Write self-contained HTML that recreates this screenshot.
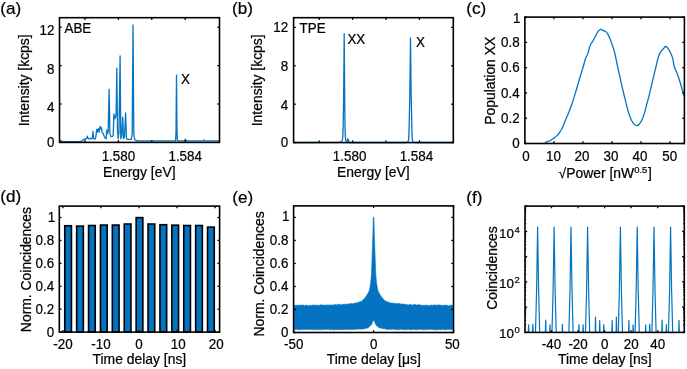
<!DOCTYPE html>
<html><head><meta charset="utf-8"><style>
html,body{margin:0;padding:0;background:#fff;}
svg{display:block;will-change:transform;}
text{font-family:"Liberation Sans",sans-serif;fill:#000;stroke:#000;stroke-width:0.22px;}
</style></head><body>
<svg width="687" height="369" viewBox="0 0 687 369">
<rect width="687" height="369" fill="#fff"/>
<polyline points="59.80,140.30 61.00,140.60 62.50,141.30 64.00,141.60 80.50,141.70 81.20,141.60 82.90,140.20 84.30,139.00 85.40,139.50 86.50,138.40 87.30,136.20 87.90,138.40 88.90,138.80 90.30,138.40 91.70,138.80 92.40,137.70 93.00,131.40 93.60,138.40 94.90,139.10 95.70,137.70 96.70,129.30 97.40,132.10 98.30,128.60 99.10,132.10 100.20,126.30 100.90,128.90 101.60,127.90 102.10,132.50 103.20,133.50 104.20,136.20 105.30,138.30 106.10,138.80 106.90,129.80 107.60,133.50 108.20,131.40 109.10,89.30 109.90,133.50 110.60,136.20 112.10,136.70 113.20,135.60 113.90,114.00 114.80,118.70 115.80,116.60 116.20,112.00 116.80,68.10 117.50,130.00 118.20,138.80 119.00,131.40 120.10,55.80 120.80,138.80 121.70,135.60 122.70,117.10 123.50,138.80 124.50,136.70 125.60,113.00 126.50,138.80 128.00,139.30 129.60,139.40 131.30,139.30 132.20,134.00 133.00,24.90 133.80,134.00 134.60,139.30 135.50,140.20 137.50,140.80 175.60,140.90 176.00,132.00 176.50,75.20 177.00,132.00 177.40,140.90 184.50,140.90 185.50,139.20 186.50,140.90 203.30,140.90 204.30,139.90 205.30,140.90 219.00,140.90" fill="none" stroke="#0474c2" stroke-width="1.3" stroke-linejoin="round" />
<rect x="59.50" y="17.70" width="160.00" height="124.70" fill="none" stroke="#000" stroke-width="1.6"/>
<line x1="85.00" y1="142.40" x2="85.00" y2="140.20" stroke="#000" stroke-width="1.3"/>
<line x1="85.00" y1="17.70" x2="85.00" y2="19.90" stroke="#000" stroke-width="1.3"/>
<line x1="118.40" y1="142.40" x2="118.40" y2="140.20" stroke="#000" stroke-width="1.3"/>
<line x1="118.40" y1="17.70" x2="118.40" y2="19.90" stroke="#000" stroke-width="1.3"/>
<line x1="151.80" y1="142.40" x2="151.80" y2="140.20" stroke="#000" stroke-width="1.3"/>
<line x1="151.80" y1="17.70" x2="151.80" y2="19.90" stroke="#000" stroke-width="1.3"/>
<line x1="185.20" y1="142.40" x2="185.20" y2="140.20" stroke="#000" stroke-width="1.3"/>
<line x1="185.20" y1="17.70" x2="185.20" y2="19.90" stroke="#000" stroke-width="1.3"/>
<line x1="59.50" y1="142.40" x2="61.70" y2="142.40" stroke="#000" stroke-width="1.3"/>
<line x1="219.50" y1="142.40" x2="217.30" y2="142.40" stroke="#000" stroke-width="1.3"/>
<line x1="59.50" y1="104.00" x2="61.70" y2="104.00" stroke="#000" stroke-width="1.3"/>
<line x1="219.50" y1="104.00" x2="217.30" y2="104.00" stroke="#000" stroke-width="1.3"/>
<line x1="59.50" y1="65.60" x2="61.70" y2="65.60" stroke="#000" stroke-width="1.3"/>
<line x1="219.50" y1="65.60" x2="217.30" y2="65.60" stroke="#000" stroke-width="1.3"/>
<line x1="59.50" y1="27.20" x2="61.70" y2="27.20" stroke="#000" stroke-width="1.3"/>
<line x1="219.50" y1="27.20" x2="217.30" y2="27.20" stroke="#000" stroke-width="1.3"/>
<text transform="translate(54.40,35.13) scale(1,1.035)" text-anchor="end" font-size="13.4" >12</text>
<text transform="translate(54.40,74.13) scale(1,1.035)" text-anchor="end" font-size="13.4" >8</text>
<text transform="translate(54.40,112.03) scale(1,1.035)" text-anchor="end" font-size="13.4" >4</text>
<text transform="translate(54.40,147.43) scale(1,1.035)" text-anchor="end" font-size="13.4" >0</text>
<text transform="translate(118.40,160.80) scale(1,1.035)" text-anchor="middle" font-size="13.4" >1.580</text>
<text transform="translate(185.20,160.80) scale(1,1.035)" text-anchor="middle" font-size="13.4" >1.584</text>
<text x="139.30" y="176.70" text-anchor="middle" font-size="13.9" >Energy [eV]</text>
<text transform="translate(28.80,80.30) rotate(-90)" text-anchor="middle" font-size="13.9">Intensity [kcps]</text>
<text transform="translate(64.50,33.40) scale(1,1.035)" text-anchor="start" font-size="13.4" >ABE</text>
<text transform="translate(181.00,84.00) scale(1,1.035)" text-anchor="start" font-size="13.4" >X</text>
<text x="0.20" y="14.20" text-anchor="start" font-size="17.1" >(a)</text>
<polyline points="294.00,142.50 338.00,142.40 341.00,141.90 342.20,140.60 342.80,137.00 343.20,125.00 343.60,100.00 344.20,33.70 344.70,100.00 345.00,125.00 345.30,137.00 345.80,140.60 346.80,141.80 347.40,140.20 347.90,138.60 348.40,140.20 349.00,142.30 350.00,142.50 405.00,142.50 407.50,142.10 408.50,140.50 408.90,135.00 409.40,115.00 409.90,90.00 410.50,38.00 411.10,90.00 411.60,115.00 412.00,135.00 412.40,140.50 413.50,142.10 416.00,142.50 453.00,142.50" fill="none" stroke="#0474c2" stroke-width="1.3" stroke-linejoin="round" />
<rect x="293.60" y="17.70" width="159.70" height="124.90" fill="none" stroke="#000" stroke-width="1.6"/>
<line x1="319.20" y1="142.60" x2="319.20" y2="140.40" stroke="#000" stroke-width="1.3"/>
<line x1="319.20" y1="17.70" x2="319.20" y2="19.90" stroke="#000" stroke-width="1.3"/>
<line x1="352.60" y1="142.60" x2="352.60" y2="140.40" stroke="#000" stroke-width="1.3"/>
<line x1="352.60" y1="17.70" x2="352.60" y2="19.90" stroke="#000" stroke-width="1.3"/>
<line x1="386.00" y1="142.60" x2="386.00" y2="140.40" stroke="#000" stroke-width="1.3"/>
<line x1="386.00" y1="17.70" x2="386.00" y2="19.90" stroke="#000" stroke-width="1.3"/>
<line x1="419.40" y1="142.60" x2="419.40" y2="140.40" stroke="#000" stroke-width="1.3"/>
<line x1="419.40" y1="17.70" x2="419.40" y2="19.90" stroke="#000" stroke-width="1.3"/>
<line x1="293.60" y1="142.60" x2="295.80" y2="142.60" stroke="#000" stroke-width="1.3"/>
<line x1="453.30" y1="142.60" x2="451.10" y2="142.60" stroke="#000" stroke-width="1.3"/>
<line x1="293.60" y1="104.20" x2="295.80" y2="104.20" stroke="#000" stroke-width="1.3"/>
<line x1="453.30" y1="104.20" x2="451.10" y2="104.20" stroke="#000" stroke-width="1.3"/>
<line x1="293.60" y1="65.80" x2="295.80" y2="65.80" stroke="#000" stroke-width="1.3"/>
<line x1="453.30" y1="65.80" x2="451.10" y2="65.80" stroke="#000" stroke-width="1.3"/>
<line x1="293.60" y1="27.40" x2="295.80" y2="27.40" stroke="#000" stroke-width="1.3"/>
<line x1="453.30" y1="27.40" x2="451.10" y2="27.40" stroke="#000" stroke-width="1.3"/>
<text transform="translate(288.20,32.23) scale(1,1.035)" text-anchor="end" font-size="13.4" >12</text>
<text transform="translate(288.20,71.33) scale(1,1.035)" text-anchor="end" font-size="13.4" >8</text>
<text transform="translate(288.20,110.03) scale(1,1.035)" text-anchor="end" font-size="13.4" >4</text>
<text transform="translate(288.20,147.33) scale(1,1.035)" text-anchor="end" font-size="13.4" >0</text>
<text transform="translate(349.60,160.80) scale(1,1.035)" text-anchor="middle" font-size="13.4" >1.580</text>
<text transform="translate(416.40,160.80) scale(1,1.035)" text-anchor="middle" font-size="13.4" >1.584</text>
<text x="373.40" y="176.70" text-anchor="middle" font-size="13.9" >Energy [eV]</text>
<text transform="translate(261.80,80.30) rotate(-90)" text-anchor="middle" font-size="13.9">Intensity [kcps]</text>
<text transform="translate(299.60,33.00) scale(1,1.035)" text-anchor="start" font-size="13.4" >TPE</text>
<text transform="translate(347.40,43.80) scale(1,1.035)" text-anchor="start" font-size="13.4" >XX</text>
<text transform="translate(416.00,47.30) scale(1,1.035)" text-anchor="start" font-size="13.4" >X</text>
<text x="232.10" y="14.20" text-anchor="start" font-size="17.1" >(b)</text>
<path d="M544.90,142.40 C545.35,142.27 546.62,141.97 547.60,141.60 C548.58,141.23 549.72,140.80 550.80,140.20 C551.88,139.60 553.10,138.72 554.10,138.00 C555.10,137.28 555.90,136.80 556.80,135.90 C557.70,135.00 558.60,133.87 559.50,132.60 C560.40,131.33 561.30,130.15 562.20,128.30 C563.10,126.45 563.85,124.05 564.90,121.50 C565.95,118.95 567.30,116.00 568.50,113.00 C569.70,110.00 570.87,107.13 572.10,103.50 C573.33,99.87 574.67,95.28 575.90,91.20 C577.13,87.12 578.28,83.07 579.50,79.00 C580.72,74.93 582.18,70.25 583.20,66.80 C584.22,63.35 584.80,60.53 585.60,58.30 C586.40,56.07 587.38,55.12 588.00,53.40 C588.62,51.68 588.85,49.53 589.30,48.00 C589.75,46.47 590.10,45.37 590.70,44.20 C591.30,43.03 592.18,42.17 592.90,41.00 C593.62,39.83 594.28,38.57 595.00,37.20 C595.72,35.83 596.57,33.92 597.20,32.80 C597.83,31.68 598.20,31.07 598.80,30.50 C599.40,29.93 600.25,29.52 600.80,29.40 C601.35,29.28 601.62,29.55 602.10,29.80 C602.58,30.05 603.17,30.67 603.70,30.90 C604.23,31.13 604.75,30.88 605.30,31.20 C605.85,31.52 606.45,32.07 607.00,32.80 C607.55,33.53 608.07,34.52 608.60,35.60 C609.13,36.68 609.67,37.95 610.20,39.30 C610.73,40.65 611.25,42.15 611.80,43.70 C612.35,45.25 612.95,46.80 613.50,48.60 C614.05,50.40 614.50,51.92 615.10,54.50 C615.70,57.08 616.43,60.97 617.10,64.10 C617.77,67.23 618.43,70.25 619.10,73.30 C619.77,76.35 620.42,79.37 621.10,82.40 C621.78,85.43 622.52,88.62 623.20,91.50 C623.88,94.38 624.53,96.98 625.20,99.70 C625.87,102.42 626.52,105.27 627.20,107.80 C627.88,110.33 628.62,112.87 629.30,114.90 C629.98,116.93 630.47,118.42 631.30,120.00 C632.13,121.58 633.35,123.45 634.30,124.40 C635.25,125.35 636.15,125.77 637.00,125.70 C637.85,125.63 638.55,125.02 639.40,124.00 C640.25,122.98 641.25,121.45 642.10,119.60 C642.95,117.75 643.70,115.55 644.50,112.90 C645.30,110.25 646.05,106.92 646.90,103.70 C647.75,100.48 648.55,97.85 649.60,93.60 C650.65,89.35 652.17,82.53 653.20,78.20 C654.23,73.87 655.02,70.83 655.80,67.60 C656.58,64.37 657.17,61.30 657.90,58.80 C658.63,56.30 659.37,54.17 660.20,52.60 C661.03,51.03 662.02,50.42 662.90,49.40 C663.78,48.38 664.68,46.70 665.50,46.50 C666.32,46.30 667.00,47.23 667.80,48.20 C668.60,49.17 669.50,50.68 670.30,52.30 C671.10,53.92 671.93,55.50 672.60,57.90 C673.27,60.30 673.57,64.20 674.30,66.70 C675.03,69.20 676.12,70.55 677.00,72.90 C677.88,75.25 678.73,78.02 679.60,80.80 C680.47,83.58 681.40,86.95 682.20,89.60 C683.00,92.25 684.03,95.52 684.40,96.70" fill="none" stroke="#0474c2" stroke-width="1.3" stroke-linejoin="round"/>
<rect x="524.90" y="17.10" width="159.50" height="126.40" fill="none" stroke="#000" stroke-width="1.6"/>
<line x1="524.90" y1="143.50" x2="524.90" y2="141.30" stroke="#000" stroke-width="1.3"/>
<line x1="524.90" y1="17.10" x2="524.90" y2="19.30" stroke="#000" stroke-width="1.3"/>
<line x1="553.92" y1="143.50" x2="553.92" y2="141.30" stroke="#000" stroke-width="1.3"/>
<line x1="553.92" y1="17.10" x2="553.92" y2="19.30" stroke="#000" stroke-width="1.3"/>
<line x1="582.94" y1="143.50" x2="582.94" y2="141.30" stroke="#000" stroke-width="1.3"/>
<line x1="582.94" y1="17.10" x2="582.94" y2="19.30" stroke="#000" stroke-width="1.3"/>
<line x1="611.95" y1="143.50" x2="611.95" y2="141.30" stroke="#000" stroke-width="1.3"/>
<line x1="611.95" y1="17.10" x2="611.95" y2="19.30" stroke="#000" stroke-width="1.3"/>
<line x1="640.97" y1="143.50" x2="640.97" y2="141.30" stroke="#000" stroke-width="1.3"/>
<line x1="640.97" y1="17.10" x2="640.97" y2="19.30" stroke="#000" stroke-width="1.3"/>
<line x1="669.99" y1="143.50" x2="669.99" y2="141.30" stroke="#000" stroke-width="1.3"/>
<line x1="669.99" y1="17.10" x2="669.99" y2="19.30" stroke="#000" stroke-width="1.3"/>
<line x1="524.90" y1="143.50" x2="527.10" y2="143.50" stroke="#000" stroke-width="1.3"/>
<line x1="684.40" y1="143.50" x2="682.20" y2="143.50" stroke="#000" stroke-width="1.3"/>
<line x1="524.90" y1="118.22" x2="527.10" y2="118.22" stroke="#000" stroke-width="1.3"/>
<line x1="684.40" y1="118.22" x2="682.20" y2="118.22" stroke="#000" stroke-width="1.3"/>
<line x1="524.90" y1="92.94" x2="527.10" y2="92.94" stroke="#000" stroke-width="1.3"/>
<line x1="684.40" y1="92.94" x2="682.20" y2="92.94" stroke="#000" stroke-width="1.3"/>
<line x1="524.90" y1="67.66" x2="527.10" y2="67.66" stroke="#000" stroke-width="1.3"/>
<line x1="684.40" y1="67.66" x2="682.20" y2="67.66" stroke="#000" stroke-width="1.3"/>
<line x1="524.90" y1="42.38" x2="527.10" y2="42.38" stroke="#000" stroke-width="1.3"/>
<line x1="684.40" y1="42.38" x2="682.20" y2="42.38" stroke="#000" stroke-width="1.3"/>
<line x1="524.90" y1="17.10" x2="527.10" y2="17.10" stroke="#000" stroke-width="1.3"/>
<line x1="684.40" y1="17.10" x2="682.20" y2="17.10" stroke="#000" stroke-width="1.3"/>
<text transform="translate(519.60,148.33) scale(1,1.035)" text-anchor="end" font-size="13.4" >0</text>
<text transform="translate(519.60,123.05) scale(1,1.035)" text-anchor="end" font-size="13.4" >0.2</text>
<text transform="translate(519.60,97.77) scale(1,1.035)" text-anchor="end" font-size="13.4" >0.4</text>
<text transform="translate(519.60,72.49) scale(1,1.035)" text-anchor="end" font-size="13.4" >0.6</text>
<text transform="translate(519.60,47.21) scale(1,1.035)" text-anchor="end" font-size="13.4" >0.8</text>
<text transform="translate(520.40,22.93) scale(1,1.035)" text-anchor="end" font-size="13.4" >1</text>
<text transform="translate(526.00,160.93) scale(1,1.035)" text-anchor="middle" font-size="13.4" >0</text>
<text transform="translate(553.50,160.93) scale(1,1.035)" text-anchor="middle" font-size="13.4" >10</text>
<text transform="translate(582.00,160.93) scale(1,1.035)" text-anchor="middle" font-size="13.4" >20</text>
<text transform="translate(611.00,160.93) scale(1,1.035)" text-anchor="middle" font-size="13.4" >30</text>
<text transform="translate(640.00,160.93) scale(1,1.035)" text-anchor="middle" font-size="13.4" >40</text>
<text transform="translate(669.70,160.93) scale(1,1.035)" text-anchor="middle" font-size="13.4" >50</text>
<text x="605.2" y="178.1" text-anchor="middle" font-size="13.9">&#8730;Power [nW<tspan font-size="9.5" dy="-5.2">0.5</tspan><tspan dy="5.2" dx="0.6">]</tspan></text>
<text transform="translate(494.50,80.80) rotate(-90)" text-anchor="middle" font-size="13.9">Population XX</text>
<text x="466.20" y="14.10" text-anchor="start" font-size="17.1" >(c)</text>
<rect x="64.75" y="225.75" width="6.70" height="106.35" fill="#0474c2" stroke="#000" stroke-width="1.6"/>
<rect x="76.65" y="226.09" width="6.70" height="106.01" fill="#0474c2" stroke="#000" stroke-width="1.6"/>
<rect x="88.55" y="225.52" width="6.70" height="106.58" fill="#0474c2" stroke="#000" stroke-width="1.6"/>
<rect x="100.45" y="225.06" width="6.70" height="107.04" fill="#0474c2" stroke="#000" stroke-width="1.6"/>
<rect x="112.35" y="225.06" width="6.70" height="107.04" fill="#0474c2" stroke="#000" stroke-width="1.6"/>
<rect x="124.25" y="224.03" width="6.70" height="108.07" fill="#0474c2" stroke="#000" stroke-width="1.6"/>
<rect x="136.15" y="217.61" width="6.70" height="114.49" fill="#0474c2" stroke="#000" stroke-width="1.6"/>
<rect x="148.05" y="224.03" width="6.70" height="108.07" fill="#0474c2" stroke="#000" stroke-width="1.6"/>
<rect x="159.95" y="224.72" width="6.70" height="107.38" fill="#0474c2" stroke="#000" stroke-width="1.6"/>
<rect x="171.85" y="225.18" width="6.70" height="106.92" fill="#0474c2" stroke="#000" stroke-width="1.6"/>
<rect x="183.75" y="225.52" width="6.70" height="106.58" fill="#0474c2" stroke="#000" stroke-width="1.6"/>
<rect x="195.65" y="225.52" width="6.70" height="106.58" fill="#0474c2" stroke="#000" stroke-width="1.6"/>
<rect x="207.55" y="227.12" width="6.70" height="104.98" fill="#0474c2" stroke="#000" stroke-width="1.6"/>
<rect x="59.30" y="206.10" width="160.30" height="126.00" fill="none" stroke="#000" stroke-width="1.6"/>
<line x1="62.90" y1="332.10" x2="62.90" y2="329.90" stroke="#000" stroke-width="1.3"/>
<line x1="62.90" y1="206.10" x2="62.90" y2="208.30" stroke="#000" stroke-width="1.3"/>
<line x1="100.95" y1="332.10" x2="100.95" y2="329.90" stroke="#000" stroke-width="1.3"/>
<line x1="100.95" y1="206.10" x2="100.95" y2="208.30" stroke="#000" stroke-width="1.3"/>
<line x1="139.00" y1="332.10" x2="139.00" y2="329.90" stroke="#000" stroke-width="1.3"/>
<line x1="139.00" y1="206.10" x2="139.00" y2="208.30" stroke="#000" stroke-width="1.3"/>
<line x1="177.05" y1="332.10" x2="177.05" y2="329.90" stroke="#000" stroke-width="1.3"/>
<line x1="177.05" y1="206.10" x2="177.05" y2="208.30" stroke="#000" stroke-width="1.3"/>
<line x1="215.10" y1="332.10" x2="215.10" y2="329.90" stroke="#000" stroke-width="1.3"/>
<line x1="215.10" y1="206.10" x2="215.10" y2="208.30" stroke="#000" stroke-width="1.3"/>
<line x1="59.30" y1="332.10" x2="61.50" y2="332.10" stroke="#000" stroke-width="1.3"/>
<line x1="219.60" y1="332.10" x2="217.40" y2="332.10" stroke="#000" stroke-width="1.3"/>
<line x1="59.30" y1="309.18" x2="61.50" y2="309.18" stroke="#000" stroke-width="1.3"/>
<line x1="219.60" y1="309.18" x2="217.40" y2="309.18" stroke="#000" stroke-width="1.3"/>
<line x1="59.30" y1="286.26" x2="61.50" y2="286.26" stroke="#000" stroke-width="1.3"/>
<line x1="219.60" y1="286.26" x2="217.40" y2="286.26" stroke="#000" stroke-width="1.3"/>
<line x1="59.30" y1="263.34" x2="61.50" y2="263.34" stroke="#000" stroke-width="1.3"/>
<line x1="219.60" y1="263.34" x2="217.40" y2="263.34" stroke="#000" stroke-width="1.3"/>
<line x1="59.30" y1="240.42" x2="61.50" y2="240.42" stroke="#000" stroke-width="1.3"/>
<line x1="219.60" y1="240.42" x2="217.40" y2="240.42" stroke="#000" stroke-width="1.3"/>
<line x1="59.30" y1="217.50" x2="61.50" y2="217.50" stroke="#000" stroke-width="1.3"/>
<line x1="219.60" y1="217.50" x2="217.40" y2="217.50" stroke="#000" stroke-width="1.3"/>
<text transform="translate(54.20,336.93) scale(1,1.035)" text-anchor="end" font-size="13.4" >0</text>
<text transform="translate(54.20,314.01) scale(1,1.035)" text-anchor="end" font-size="13.4" >0.2</text>
<text transform="translate(54.20,291.09) scale(1,1.035)" text-anchor="end" font-size="13.4" >0.4</text>
<text transform="translate(54.20,268.17) scale(1,1.035)" text-anchor="end" font-size="13.4" >0.6</text>
<text transform="translate(54.20,245.25) scale(1,1.035)" text-anchor="end" font-size="13.4" >0.8</text>
<text transform="translate(55.20,222.33) scale(1,1.035)" text-anchor="end" font-size="13.4" >1</text>
<text transform="translate(62.90,349.33) scale(1,1.035)" text-anchor="middle" font-size="13.4" >-20</text>
<text transform="translate(100.95,349.33) scale(1,1.035)" text-anchor="middle" font-size="13.4" >-10</text>
<text transform="translate(139.00,349.33) scale(1,1.035)" text-anchor="middle" font-size="13.4" >0</text>
<text transform="translate(178.25,349.33) scale(1,1.035)" text-anchor="middle" font-size="13.4" >10</text>
<text transform="translate(216.30,349.33) scale(1,1.035)" text-anchor="middle" font-size="13.4" >20</text>
<text x="139.40" y="363.60" text-anchor="middle" font-size="13.9" >Time delay [ns]</text>
<text transform="translate(30.50,269.60) rotate(-90)" text-anchor="middle" font-size="13.9">Norm. Coincidences</text>
<text x="0.20" y="202.40" text-anchor="start" font-size="17.1" >(d)</text>
<path d="M294.30,305.33 L295.10,305.17 L295.90,305.61 L296.70,305.08 L297.50,305.49 L298.30,305.33 L299.10,305.05 L299.90,305.44 L300.70,305.01 L301.50,305.36 L302.30,305.03 L303.10,305.04 L303.90,305.33 L304.70,305.68 L305.50,305.04 L306.30,305.12 L307.10,305.48 L307.90,305.76 L308.70,305.42 L309.50,305.25 L310.30,305.76 L311.10,304.92 L311.90,305.64 L312.70,305.12 L313.50,304.98 L314.30,304.95 L315.10,305.11 L315.90,305.56 L316.70,304.98 L317.50,305.33 L318.30,305.38 L319.10,305.13 L319.90,305.28 L320.70,304.84 L321.50,304.82 L322.30,304.95 L323.10,305.37 L323.90,305.12 L324.70,304.99 L325.50,305.20 L326.30,305.05 L327.10,304.87 L327.90,305.29 L328.70,305.17 L329.50,304.72 L330.30,304.99 L331.10,304.91 L331.90,305.19 L332.70,305.03 L333.50,304.60 L334.30,305.19 L335.10,304.38 L335.90,304.61 L336.70,304.89 L337.50,304.31 L338.30,304.57 L339.10,304.11 L339.90,304.63 L340.70,304.66 L341.50,304.43 L342.30,304.65 L343.10,304.10 L343.90,304.39 L344.70,304.24 L345.50,304.18 L346.30,304.01 L347.10,304.31 L347.90,304.35 L348.70,303.86 L349.50,303.94 L350.30,303.30 L351.10,303.78 L351.90,303.63 L352.70,303.85 L353.50,303.60 L354.30,303.21 L355.10,303.12 L355.90,303.02 L356.70,302.92 L357.50,302.67 L358.30,302.36 L359.10,302.05 L359.90,301.75 L360.70,301.44 L361.50,301.13 L362.30,300.68 L363.10,299.81 L363.90,298.93 L364.70,298.06 L365.50,297.11 L366.30,295.93 L367.10,294.73 L367.90,293.47 L368.40,292.54 L369.00,291.15 L369.50,290.00 L370.00,286.96 L370.40,284.52 L370.65,283.00 L371.00,279.27 L371.40,275.00 L371.80,265.00 L372.15,255.00 L372.50,245.00 L372.80,236.00 L373.05,228.00 L373.30,217.30 L373.60,217.10 L373.90,217.30 L374.15,228.00 L374.40,236.00 L374.70,245.00 L375.05,255.00 L375.40,265.00 L375.80,275.00 L376.20,279.27 L376.55,283.00 L376.80,284.52 L377.20,286.96 L377.70,290.00 L378.20,291.15 L378.80,292.54 L379.90,294.41 L380.70,295.64 L381.50,296.81 L382.30,297.84 L383.10,298.71 L383.90,299.59 L384.70,300.46 L385.50,301.05 L386.30,301.36 L387.10,301.67 L387.90,301.98 L388.70,302.28 L389.50,302.59 L390.30,302.90 L391.10,303.00 L391.90,303.09 L392.70,303.19 L393.50,303.29 L394.30,303.19 L395.10,303.38 L395.90,303.73 L396.70,303.24 L397.50,303.73 L398.30,303.57 L399.10,303.59 L399.90,303.59 L400.70,304.28 L401.50,303.76 L402.30,303.92 L403.10,304.10 L403.90,304.58 L404.70,303.93 L405.50,304.31 L406.30,304.45 L407.10,304.81 L407.90,304.80 L408.70,304.89 L409.50,304.41 L410.30,304.57 L411.10,304.55 L411.90,305.06 L412.70,305.16 L413.50,304.46 L414.30,304.52 L415.10,304.60 L415.90,304.64 L416.70,304.90 L417.50,305.03 L418.30,304.77 L419.10,304.57 L419.90,304.97 L420.70,304.96 L421.50,305.17 L422.30,305.55 L423.10,305.35 L423.90,305.22 L424.70,305.32 L425.50,305.38 L426.30,304.83 L427.10,305.59 L427.90,305.49 L428.70,305.59 L429.50,305.53 L430.30,305.17 L431.10,305.18 L431.90,304.93 L432.70,305.41 L433.50,304.91 L434.30,304.92 L435.10,305.05 L435.90,305.02 L436.70,305.19 L437.50,304.94 L438.30,304.90 L439.10,305.04 L439.90,305.00 L440.70,305.25 L441.50,304.95 L442.30,305.72 L443.10,305.50 L443.90,305.09 L444.70,305.19 L445.50,305.28 L446.30,305.30 L447.10,305.10 L447.90,305.76 L448.70,305.89 L449.50,305.43 L450.30,305.45 L451.10,305.10 L451.90,305.12 L452.70,305.35 L452.80,305.28 L452.80,329.80 L452.70,329.40 L451.90,329.31 L451.10,329.87 L450.30,329.61 L449.50,329.38 L448.70,329.62 L447.90,329.31 L447.10,329.61 L446.30,329.87 L445.50,329.80 L444.70,329.70 L443.90,329.44 L443.10,329.50 L442.30,329.38 L441.50,329.74 L440.70,329.60 L439.90,329.74 L439.10,329.47 L438.30,329.41 L437.50,329.76 L436.70,329.86 L435.90,329.78 L435.10,329.75 L434.30,329.76 L433.50,329.71 L432.70,329.40 L431.90,329.57 L431.10,329.47 L430.30,329.28 L429.50,329.27 L428.70,329.42 L427.90,329.41 L427.10,329.67 L426.30,329.82 L425.50,329.52 L424.70,329.81 L423.90,329.84 L423.10,329.82 L422.30,329.46 L421.50,329.37 L420.70,329.38 L419.90,329.36 L419.10,329.36 L418.30,329.61 L417.50,329.77 L416.70,329.74 L415.90,329.52 L415.10,329.62 L414.30,329.71 L413.50,329.28 L412.70,329.62 L411.90,329.77 L411.10,329.69 L410.30,329.67 L409.50,329.51 L408.70,329.33 L407.90,329.69 L407.10,329.41 L406.30,329.69 L405.50,329.80 L404.70,329.45 L403.90,329.45 L403.10,329.78 L402.30,329.64 L401.50,329.31 L400.70,329.28 L399.90,329.29 L399.10,329.74 L398.30,329.68 L397.50,329.26 L396.70,329.65 L395.90,329.72 L395.10,329.50 L394.30,329.30 L393.50,329.39 L392.70,329.12 L391.90,329.03 L391.10,329.59 L390.30,329.37 L389.50,329.28 L388.70,329.50 L387.90,329.18 L387.10,329.41 L386.30,329.28 L385.50,328.81 L384.70,328.74 L383.90,328.66 L383.10,328.53 L382.30,328.64 L381.50,328.32 L380.70,328.13 L379.90,327.67 L378.80,327.39 L378.20,326.96 L377.70,326.61 L377.20,326.19 L376.80,325.77 L376.55,325.50 L376.20,325.13 L375.80,324.71 L375.40,324.00 L375.05,323.12 L374.70,322.25 L374.40,321.58 L374.15,321.06 L373.90,320.53 L373.60,319.90 L373.30,320.53 L373.05,321.06 L372.80,321.58 L372.50,322.25 L372.15,323.12 L371.80,324.00 L371.40,324.71 L371.00,325.13 L370.65,325.50 L370.40,325.77 L370.00,326.19 L369.50,326.61 L369.00,326.96 L368.40,327.39 L367.90,327.67 L367.10,328.21 L366.30,328.16 L365.50,328.49 L364.70,328.66 L363.90,328.96 L363.10,328.76 L362.30,329.16 L361.50,329.01 L360.70,329.13 L359.90,329.22 L359.10,328.93 L358.30,329.21 L357.50,329.08 L356.70,328.99 L355.90,329.49 L355.10,329.13 L354.30,329.33 L353.50,329.51 L352.70,329.43 L351.90,329.31 L351.10,329.45 L350.30,329.49 L349.50,329.65 L348.70,329.26 L347.90,329.54 L347.10,329.35 L346.30,329.37 L345.50,329.67 L344.70,329.51 L343.90,329.55 L343.10,329.67 L342.30,329.76 L341.50,329.48 L340.70,329.58 L339.90,329.52 L339.10,329.52 L338.30,329.63 L337.50,329.49 L336.70,329.54 L335.90,329.51 L335.10,329.79 L334.30,329.65 L333.50,329.75 L332.70,329.79 L331.90,329.39 L331.10,329.57 L330.30,329.80 L329.50,329.74 L328.70,329.32 L327.90,329.31 L327.10,329.50 L326.30,329.28 L325.50,329.39 L324.70,329.29 L323.90,329.65 L323.10,329.72 L322.30,329.79 L321.50,329.34 L320.70,329.68 L319.90,329.65 L319.10,329.34 L318.30,329.78 L317.50,329.84 L316.70,329.39 L315.90,329.83 L315.10,329.50 L314.30,329.55 L313.50,329.86 L312.70,329.76 L311.90,329.36 L311.10,329.53 L310.30,329.58 L309.50,329.47 L308.70,329.39 L307.90,329.47 L307.10,329.71 L306.30,329.29 L305.50,329.61 L304.70,329.54 L303.90,329.29 L303.10,329.48 L302.30,329.66 L301.50,329.59 L300.70,329.33 L299.90,329.88 L299.10,329.76 L298.30,329.87 L297.50,329.36 L296.70,329.45 L295.90,329.32 L295.10,329.76 L294.30,329.46 Z" fill="#0474c2" stroke="#0474c2" stroke-width="0.6"/>
<rect x="293.60" y="205.90" width="159.90" height="126.60" fill="none" stroke="#000" stroke-width="1.6"/>
<line x1="293.65" y1="332.50" x2="293.65" y2="330.30" stroke="#000" stroke-width="1.3"/>
<line x1="293.65" y1="205.90" x2="293.65" y2="208.10" stroke="#000" stroke-width="1.3"/>
<line x1="373.60" y1="332.50" x2="373.60" y2="330.30" stroke="#000" stroke-width="1.3"/>
<line x1="373.60" y1="205.90" x2="373.60" y2="208.10" stroke="#000" stroke-width="1.3"/>
<line x1="453.55" y1="332.50" x2="453.55" y2="330.30" stroke="#000" stroke-width="1.3"/>
<line x1="453.55" y1="205.90" x2="453.55" y2="208.10" stroke="#000" stroke-width="1.3"/>
<line x1="293.60" y1="332.50" x2="295.80" y2="332.50" stroke="#000" stroke-width="1.3"/>
<line x1="453.50" y1="332.50" x2="451.30" y2="332.50" stroke="#000" stroke-width="1.3"/>
<line x1="293.60" y1="309.48" x2="295.80" y2="309.48" stroke="#000" stroke-width="1.3"/>
<line x1="453.50" y1="309.48" x2="451.30" y2="309.48" stroke="#000" stroke-width="1.3"/>
<line x1="293.60" y1="286.46" x2="295.80" y2="286.46" stroke="#000" stroke-width="1.3"/>
<line x1="453.50" y1="286.46" x2="451.30" y2="286.46" stroke="#000" stroke-width="1.3"/>
<line x1="293.60" y1="263.44" x2="295.80" y2="263.44" stroke="#000" stroke-width="1.3"/>
<line x1="453.50" y1="263.44" x2="451.30" y2="263.44" stroke="#000" stroke-width="1.3"/>
<line x1="293.60" y1="240.42" x2="295.80" y2="240.42" stroke="#000" stroke-width="1.3"/>
<line x1="453.50" y1="240.42" x2="451.30" y2="240.42" stroke="#000" stroke-width="1.3"/>
<line x1="293.60" y1="217.40" x2="295.80" y2="217.40" stroke="#000" stroke-width="1.3"/>
<line x1="453.50" y1="217.40" x2="451.30" y2="217.40" stroke="#000" stroke-width="1.3"/>
<text transform="translate(288.40,337.33) scale(1,1.035)" text-anchor="end" font-size="13.4" >0</text>
<text transform="translate(288.40,314.31) scale(1,1.035)" text-anchor="end" font-size="13.4" >0.2</text>
<text transform="translate(288.40,291.29) scale(1,1.035)" text-anchor="end" font-size="13.4" >0.4</text>
<text transform="translate(288.40,268.27) scale(1,1.035)" text-anchor="end" font-size="13.4" >0.6</text>
<text transform="translate(288.40,245.25) scale(1,1.035)" text-anchor="end" font-size="13.4" >0.8</text>
<text transform="translate(289.40,220.83) scale(1,1.035)" text-anchor="end" font-size="13.4" >1</text>
<text transform="translate(293.65,348.93) scale(1,1.035)" text-anchor="middle" font-size="13.4" >-50</text>
<text transform="translate(373.60,348.93) scale(1,1.035)" text-anchor="middle" font-size="13.4" >0</text>
<text transform="translate(452.35,348.93) scale(1,1.035)" text-anchor="middle" font-size="13.4" >50</text>
<text x="373.80" y="363.60" text-anchor="middle" font-size="13.9" >Time delay [&#956;s]</text>
<text transform="translate(264.00,273.90) rotate(-90)" text-anchor="middle" font-size="13.9">Norm. Coincidences</text>
<text x="232.30" y="202.60" text-anchor="start" font-size="17.1" >(e)</text>
<polyline points="535.50,332.40 536.60,290.00 537.60,227.00 538.60,290.00 539.70,332.40" fill="none" stroke="#0474c2" stroke-width="1.2" stroke-linejoin="round" />
<polyline points="552.00,332.40 553.10,290.00 554.10,227.00 555.10,290.00 556.20,332.40" fill="none" stroke="#0474c2" stroke-width="1.2" stroke-linejoin="round" />
<polyline points="568.90,332.40 570.00,290.00 571.00,227.00 572.00,290.00 573.10,332.40" fill="none" stroke="#0474c2" stroke-width="1.2" stroke-linejoin="round" />
<polyline points="585.50,332.40 586.60,290.00 587.60,227.00 588.60,290.00 589.70,332.40" fill="none" stroke="#0474c2" stroke-width="1.2" stroke-linejoin="round" />
<polyline points="618.30,332.40 619.40,290.00 620.40,227.00 621.40,290.00 622.50,332.40" fill="none" stroke="#0474c2" stroke-width="1.2" stroke-linejoin="round" />
<polyline points="635.10,332.40 636.20,290.00 637.20,227.00 638.20,290.00 639.30,332.40" fill="none" stroke="#0474c2" stroke-width="1.2" stroke-linejoin="round" />
<polyline points="651.90,332.40 653.00,290.00 654.00,227.00 655.00,290.00 656.10,332.40" fill="none" stroke="#0474c2" stroke-width="1.2" stroke-linejoin="round" />
<polyline points="668.50,332.40 669.60,290.00 670.60,227.00 671.60,290.00 672.70,332.40" fill="none" stroke="#0474c2" stroke-width="1.2" stroke-linejoin="round" />
<polyline points="528.30,332.40 528.60,324.90 528.90,332.40" fill="none" stroke="#0474c2" stroke-width="1.2" stroke-linejoin="round" />
<polyline points="532.60,332.40 532.90,324.30 533.20,332.40" fill="none" stroke="#0474c2" stroke-width="1.2" stroke-linejoin="round" />
<polyline points="545.40,332.40 545.70,320.00 546.00,332.40" fill="none" stroke="#0474c2" stroke-width="1.2" stroke-linejoin="round" />
<polyline points="549.70,332.40 550.00,324.90 550.30,332.40" fill="none" stroke="#0474c2" stroke-width="1.2" stroke-linejoin="round" />
<polyline points="562.10,332.40 562.40,324.30 562.70,332.40" fill="none" stroke="#0474c2" stroke-width="1.2" stroke-linejoin="round" />
<polyline points="578.60,332.40 578.90,324.50 579.20,332.40" fill="none" stroke="#0474c2" stroke-width="1.2" stroke-linejoin="round" />
<polyline points="582.80,332.40 583.10,324.90 583.40,332.40" fill="none" stroke="#0474c2" stroke-width="1.2" stroke-linejoin="round" />
<polyline points="595.20,332.40 595.50,317.10 595.80,332.40" fill="none" stroke="#0474c2" stroke-width="1.2" stroke-linejoin="round" />
<polyline points="599.40,332.40 599.70,320.50 600.00,332.40" fill="none" stroke="#0474c2" stroke-width="1.2" stroke-linejoin="round" />
<polyline points="603.50,332.40 603.80,324.50 604.10,332.40" fill="none" stroke="#0474c2" stroke-width="1.2" stroke-linejoin="round" />
<polyline points="611.90,332.40 612.20,320.50 612.50,332.40" fill="none" stroke="#0474c2" stroke-width="1.2" stroke-linejoin="round" />
<polyline points="616.10,332.40 616.40,317.10 616.70,332.40" fill="none" stroke="#0474c2" stroke-width="1.2" stroke-linejoin="round" />
<polyline points="628.60,332.40 628.90,320.50 629.20,332.40" fill="none" stroke="#0474c2" stroke-width="1.2" stroke-linejoin="round" />
<polyline points="632.80,332.40 633.10,324.90 633.40,332.40" fill="none" stroke="#0474c2" stroke-width="1.2" stroke-linejoin="round" />
<polyline points="645.40,332.40 645.70,324.90 646.00,332.40" fill="none" stroke="#0474c2" stroke-width="1.2" stroke-linejoin="round" />
<polyline points="649.40,332.40 649.70,324.30 650.00,332.40" fill="none" stroke="#0474c2" stroke-width="1.2" stroke-linejoin="round" />
<polyline points="661.80,332.40 662.10,320.00 662.40,332.40" fill="none" stroke="#0474c2" stroke-width="1.2" stroke-linejoin="round" />
<polyline points="666.10,332.40 666.40,324.50 666.70,332.40" fill="none" stroke="#0474c2" stroke-width="1.2" stroke-linejoin="round" />
<polyline points="678.70,332.40 679.00,320.40 679.30,332.40" fill="none" stroke="#0474c2" stroke-width="1.2" stroke-linejoin="round" />
<rect x="525.00" y="206.10" width="159.30" height="126.30" fill="none" stroke="#000" stroke-width="1.6"/>
<line x1="551.50" y1="332.40" x2="551.50" y2="330.20" stroke="#000" stroke-width="1.3"/>
<line x1="551.50" y1="206.10" x2="551.50" y2="208.30" stroke="#000" stroke-width="1.3"/>
<line x1="578.05" y1="332.40" x2="578.05" y2="330.20" stroke="#000" stroke-width="1.3"/>
<line x1="578.05" y1="206.10" x2="578.05" y2="208.30" stroke="#000" stroke-width="1.3"/>
<line x1="604.60" y1="332.40" x2="604.60" y2="330.20" stroke="#000" stroke-width="1.3"/>
<line x1="604.60" y1="206.10" x2="604.60" y2="208.30" stroke="#000" stroke-width="1.3"/>
<line x1="631.15" y1="332.40" x2="631.15" y2="330.20" stroke="#000" stroke-width="1.3"/>
<line x1="631.15" y1="206.10" x2="631.15" y2="208.30" stroke="#000" stroke-width="1.3"/>
<line x1="657.70" y1="332.40" x2="657.70" y2="330.20" stroke="#000" stroke-width="1.3"/>
<line x1="657.70" y1="206.10" x2="657.70" y2="208.30" stroke="#000" stroke-width="1.3"/>
<line x1="525.00" y1="332.40" x2="527.20" y2="332.40" stroke="#000" stroke-width="1.3"/>
<line x1="684.30" y1="332.40" x2="682.10" y2="332.40" stroke="#000" stroke-width="1.3"/>
<line x1="525.00" y1="307.14" x2="527.20" y2="307.14" stroke="#000" stroke-width="1.3"/>
<line x1="684.30" y1="307.14" x2="682.10" y2="307.14" stroke="#000" stroke-width="1.3"/>
<line x1="525.00" y1="281.88" x2="527.20" y2="281.88" stroke="#000" stroke-width="1.3"/>
<line x1="684.30" y1="281.88" x2="682.10" y2="281.88" stroke="#000" stroke-width="1.3"/>
<line x1="525.00" y1="256.62" x2="527.20" y2="256.62" stroke="#000" stroke-width="1.3"/>
<line x1="684.30" y1="256.62" x2="682.10" y2="256.62" stroke="#000" stroke-width="1.3"/>
<line x1="525.00" y1="231.36" x2="527.20" y2="231.36" stroke="#000" stroke-width="1.3"/>
<line x1="684.30" y1="231.36" x2="682.10" y2="231.36" stroke="#000" stroke-width="1.3"/>
<line x1="525.00" y1="206.10" x2="527.20" y2="206.10" stroke="#000" stroke-width="1.3"/>
<line x1="684.30" y1="206.10" x2="682.10" y2="206.10" stroke="#000" stroke-width="1.3"/>
<line x1="525.00" y1="324.80" x2="526.20" y2="324.80" stroke="#000" stroke-width="1.0"/>
<line x1="684.30" y1="324.80" x2="683.10" y2="324.80" stroke="#000" stroke-width="1.0"/>
<line x1="525.00" y1="320.35" x2="526.20" y2="320.35" stroke="#000" stroke-width="1.0"/>
<line x1="684.30" y1="320.35" x2="683.10" y2="320.35" stroke="#000" stroke-width="1.0"/>
<line x1="525.00" y1="317.19" x2="526.20" y2="317.19" stroke="#000" stroke-width="1.0"/>
<line x1="684.30" y1="317.19" x2="683.10" y2="317.19" stroke="#000" stroke-width="1.0"/>
<line x1="525.00" y1="314.74" x2="526.20" y2="314.74" stroke="#000" stroke-width="1.0"/>
<line x1="684.30" y1="314.74" x2="683.10" y2="314.74" stroke="#000" stroke-width="1.0"/>
<line x1="525.00" y1="312.74" x2="526.20" y2="312.74" stroke="#000" stroke-width="1.0"/>
<line x1="684.30" y1="312.74" x2="683.10" y2="312.74" stroke="#000" stroke-width="1.0"/>
<line x1="525.00" y1="311.05" x2="526.20" y2="311.05" stroke="#000" stroke-width="1.0"/>
<line x1="684.30" y1="311.05" x2="683.10" y2="311.05" stroke="#000" stroke-width="1.0"/>
<line x1="525.00" y1="309.59" x2="526.20" y2="309.59" stroke="#000" stroke-width="1.0"/>
<line x1="684.30" y1="309.59" x2="683.10" y2="309.59" stroke="#000" stroke-width="1.0"/>
<line x1="525.00" y1="308.30" x2="526.20" y2="308.30" stroke="#000" stroke-width="1.0"/>
<line x1="684.30" y1="308.30" x2="683.10" y2="308.30" stroke="#000" stroke-width="1.0"/>
<line x1="525.00" y1="299.54" x2="526.20" y2="299.54" stroke="#000" stroke-width="1.0"/>
<line x1="684.30" y1="299.54" x2="683.10" y2="299.54" stroke="#000" stroke-width="1.0"/>
<line x1="525.00" y1="295.09" x2="526.20" y2="295.09" stroke="#000" stroke-width="1.0"/>
<line x1="684.30" y1="295.09" x2="683.10" y2="295.09" stroke="#000" stroke-width="1.0"/>
<line x1="525.00" y1="291.93" x2="526.20" y2="291.93" stroke="#000" stroke-width="1.0"/>
<line x1="684.30" y1="291.93" x2="683.10" y2="291.93" stroke="#000" stroke-width="1.0"/>
<line x1="525.00" y1="289.48" x2="526.20" y2="289.48" stroke="#000" stroke-width="1.0"/>
<line x1="684.30" y1="289.48" x2="683.10" y2="289.48" stroke="#000" stroke-width="1.0"/>
<line x1="525.00" y1="287.48" x2="526.20" y2="287.48" stroke="#000" stroke-width="1.0"/>
<line x1="684.30" y1="287.48" x2="683.10" y2="287.48" stroke="#000" stroke-width="1.0"/>
<line x1="525.00" y1="285.79" x2="526.20" y2="285.79" stroke="#000" stroke-width="1.0"/>
<line x1="684.30" y1="285.79" x2="683.10" y2="285.79" stroke="#000" stroke-width="1.0"/>
<line x1="525.00" y1="284.33" x2="526.20" y2="284.33" stroke="#000" stroke-width="1.0"/>
<line x1="684.30" y1="284.33" x2="683.10" y2="284.33" stroke="#000" stroke-width="1.0"/>
<line x1="525.00" y1="283.04" x2="526.20" y2="283.04" stroke="#000" stroke-width="1.0"/>
<line x1="684.30" y1="283.04" x2="683.10" y2="283.04" stroke="#000" stroke-width="1.0"/>
<line x1="525.00" y1="274.28" x2="526.20" y2="274.28" stroke="#000" stroke-width="1.0"/>
<line x1="684.30" y1="274.28" x2="683.10" y2="274.28" stroke="#000" stroke-width="1.0"/>
<line x1="525.00" y1="269.83" x2="526.20" y2="269.83" stroke="#000" stroke-width="1.0"/>
<line x1="684.30" y1="269.83" x2="683.10" y2="269.83" stroke="#000" stroke-width="1.0"/>
<line x1="525.00" y1="266.67" x2="526.20" y2="266.67" stroke="#000" stroke-width="1.0"/>
<line x1="684.30" y1="266.67" x2="683.10" y2="266.67" stroke="#000" stroke-width="1.0"/>
<line x1="525.00" y1="264.22" x2="526.20" y2="264.22" stroke="#000" stroke-width="1.0"/>
<line x1="684.30" y1="264.22" x2="683.10" y2="264.22" stroke="#000" stroke-width="1.0"/>
<line x1="525.00" y1="262.22" x2="526.20" y2="262.22" stroke="#000" stroke-width="1.0"/>
<line x1="684.30" y1="262.22" x2="683.10" y2="262.22" stroke="#000" stroke-width="1.0"/>
<line x1="525.00" y1="260.53" x2="526.20" y2="260.53" stroke="#000" stroke-width="1.0"/>
<line x1="684.30" y1="260.53" x2="683.10" y2="260.53" stroke="#000" stroke-width="1.0"/>
<line x1="525.00" y1="259.07" x2="526.20" y2="259.07" stroke="#000" stroke-width="1.0"/>
<line x1="684.30" y1="259.07" x2="683.10" y2="259.07" stroke="#000" stroke-width="1.0"/>
<line x1="525.00" y1="257.78" x2="526.20" y2="257.78" stroke="#000" stroke-width="1.0"/>
<line x1="684.30" y1="257.78" x2="683.10" y2="257.78" stroke="#000" stroke-width="1.0"/>
<line x1="525.00" y1="249.02" x2="526.20" y2="249.02" stroke="#000" stroke-width="1.0"/>
<line x1="684.30" y1="249.02" x2="683.10" y2="249.02" stroke="#000" stroke-width="1.0"/>
<line x1="525.00" y1="244.57" x2="526.20" y2="244.57" stroke="#000" stroke-width="1.0"/>
<line x1="684.30" y1="244.57" x2="683.10" y2="244.57" stroke="#000" stroke-width="1.0"/>
<line x1="525.00" y1="241.41" x2="526.20" y2="241.41" stroke="#000" stroke-width="1.0"/>
<line x1="684.30" y1="241.41" x2="683.10" y2="241.41" stroke="#000" stroke-width="1.0"/>
<line x1="525.00" y1="238.96" x2="526.20" y2="238.96" stroke="#000" stroke-width="1.0"/>
<line x1="684.30" y1="238.96" x2="683.10" y2="238.96" stroke="#000" stroke-width="1.0"/>
<line x1="525.00" y1="236.96" x2="526.20" y2="236.96" stroke="#000" stroke-width="1.0"/>
<line x1="684.30" y1="236.96" x2="683.10" y2="236.96" stroke="#000" stroke-width="1.0"/>
<line x1="525.00" y1="235.27" x2="526.20" y2="235.27" stroke="#000" stroke-width="1.0"/>
<line x1="684.30" y1="235.27" x2="683.10" y2="235.27" stroke="#000" stroke-width="1.0"/>
<line x1="525.00" y1="233.81" x2="526.20" y2="233.81" stroke="#000" stroke-width="1.0"/>
<line x1="684.30" y1="233.81" x2="683.10" y2="233.81" stroke="#000" stroke-width="1.0"/>
<line x1="525.00" y1="232.52" x2="526.20" y2="232.52" stroke="#000" stroke-width="1.0"/>
<line x1="684.30" y1="232.52" x2="683.10" y2="232.52" stroke="#000" stroke-width="1.0"/>
<line x1="525.00" y1="223.76" x2="526.20" y2="223.76" stroke="#000" stroke-width="1.0"/>
<line x1="684.30" y1="223.76" x2="683.10" y2="223.76" stroke="#000" stroke-width="1.0"/>
<line x1="525.00" y1="219.31" x2="526.20" y2="219.31" stroke="#000" stroke-width="1.0"/>
<line x1="684.30" y1="219.31" x2="683.10" y2="219.31" stroke="#000" stroke-width="1.0"/>
<line x1="525.00" y1="216.15" x2="526.20" y2="216.15" stroke="#000" stroke-width="1.0"/>
<line x1="684.30" y1="216.15" x2="683.10" y2="216.15" stroke="#000" stroke-width="1.0"/>
<line x1="525.00" y1="213.70" x2="526.20" y2="213.70" stroke="#000" stroke-width="1.0"/>
<line x1="684.30" y1="213.70" x2="683.10" y2="213.70" stroke="#000" stroke-width="1.0"/>
<line x1="525.00" y1="211.70" x2="526.20" y2="211.70" stroke="#000" stroke-width="1.0"/>
<line x1="684.30" y1="211.70" x2="683.10" y2="211.70" stroke="#000" stroke-width="1.0"/>
<line x1="525.00" y1="210.01" x2="526.20" y2="210.01" stroke="#000" stroke-width="1.0"/>
<line x1="684.30" y1="210.01" x2="683.10" y2="210.01" stroke="#000" stroke-width="1.0"/>
<line x1="525.00" y1="208.55" x2="526.20" y2="208.55" stroke="#000" stroke-width="1.0"/>
<line x1="684.30" y1="208.55" x2="683.10" y2="208.55" stroke="#000" stroke-width="1.0"/>
<line x1="525.00" y1="207.26" x2="526.20" y2="207.26" stroke="#000" stroke-width="1.0"/>
<line x1="684.30" y1="207.26" x2="683.10" y2="207.26" stroke="#000" stroke-width="1.0"/>
<text x="514.0" y="238.10" text-anchor="end" font-size="13.4">10</text>
<text x="514.6" y="233.40" text-anchor="start" font-size="9.5">4</text>
<text x="514.0" y="287.70" text-anchor="end" font-size="13.4">10</text>
<text x="514.6" y="283.00" text-anchor="start" font-size="9.5">2</text>
<text x="514.0" y="337.70" text-anchor="end" font-size="13.4">10</text>
<text x="514.6" y="333.00" text-anchor="start" font-size="9.5">0</text>
<text transform="translate(551.50,348.73) scale(1,1.035)" text-anchor="middle" font-size="13.4" >-40</text>
<text transform="translate(578.05,348.73) scale(1,1.035)" text-anchor="middle" font-size="13.4" >-20</text>
<text transform="translate(604.60,348.73) scale(1,1.035)" text-anchor="middle" font-size="13.4" >0</text>
<text transform="translate(631.15,348.73) scale(1,1.035)" text-anchor="middle" font-size="13.4" >20</text>
<text transform="translate(657.70,348.73) scale(1,1.035)" text-anchor="middle" font-size="13.4" >40</text>
<text x="604.80" y="363.60" text-anchor="middle" font-size="13.9" >Time delay [ns]</text>
<text transform="translate(496.50,268.00) rotate(-90)" text-anchor="middle" font-size="13.9">Coincidences</text>
<text x="466.30" y="202.70" text-anchor="start" font-size="17.1" >(f)</text>
</svg>
</body></html>
